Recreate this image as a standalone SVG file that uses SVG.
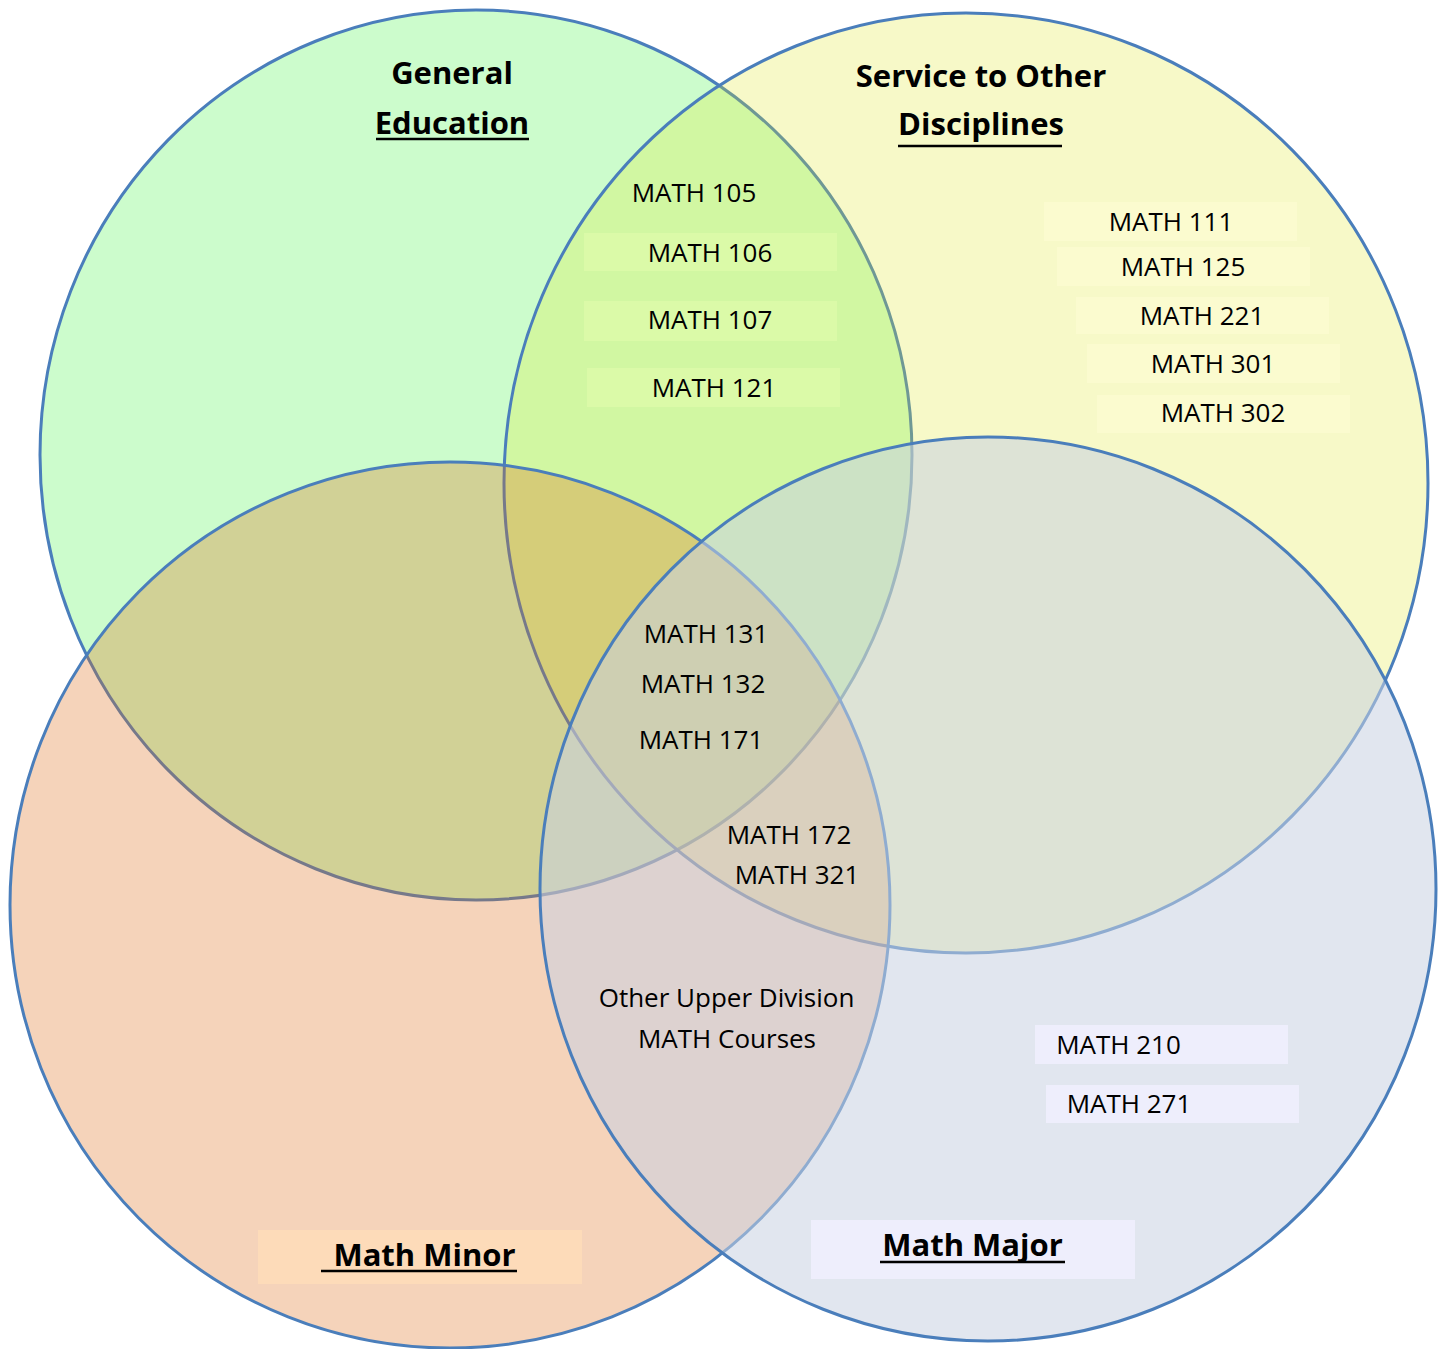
<svg xmlns="http://www.w3.org/2000/svg" width="1446" height="1349" viewBox="0 0 1446 1349">
<style>
.set{stroke:#4a7ebb;stroke-width:3}
.c{font-family:"Open Sans","Noto Sans","Liberation Sans",sans-serif;font-size:26px;fill:#000;text-anchor:middle}
.h{font-family:"Open Sans","Noto Sans","Liberation Sans",sans-serif;font-size:31px;font-weight:bold;fill:#000;text-anchor:middle}
.ul{stroke:#000;stroke-width:2.5}
.bg{fill:#dbfaa8}
.by{fill:#fbfbcf}
.bb{fill:#eeeefc}
</style>
<rect width="1446" height="1349" fill="#ffffff"/>
<g id="general-education"><ellipse class="set" cx="476" cy="455" rx="436" ry="445" fill="rgb(204,252,204)"/></g>
<g id="service-other-disciplines"><ellipse class="set" cx="966" cy="483" rx="462" ry="470" fill="rgb(224,232,36)" fill-opacity="0.25"/></g>
<g id="math-minor"><ellipse class="set" cx="450" cy="905" rx="440" ry="443" fill="rgb(222,108,28)" fill-opacity="0.3"/></g>
<g id="math-major"><ellipse class="set" cx="988" cy="889" rx="448" ry="452" fill="rgb(200,210,226)" fill-opacity="0.55"/></g>

<g id="title-general-education">
<text class="h" x="452" y="84">General</text>
<text class="h" x="452" y="134">Education</text>
<line class="ul" x1="376" y1="139" x2="529" y2="139"/>
</g>
<g id="title-service">
<text class="h" x="981" y="87">Service to Other</text>
<text class="h" x="981" y="135">Disciplines</text>
<line class="ul" x1="898" y1="146" x2="1062" y2="146"/>
</g>
<g id="title-math-minor">
<rect x="258" y="1230" width="324" height="54" fill="#fddbb9"/>
<text class="h" x="424.5" y="1266">Math Minor</text>
<line class="ul" x1="321" y1="1271" x2="517" y2="1271"/>
</g>
<g id="title-math-major">
<rect x="811" y="1220" width="324" height="59" fill="#eeeefc"/>
<text class="h" x="972.5" y="1256">Math Major</text>
<line class="ul" x1="880" y1="1262" x2="1065" y2="1262"/>
</g>

<g id="gen-ed-and-service">
<text class="c" x="694" y="202">MATH 105</text>
<rect class="bg" x="584" y="233" width="253" height="38"/>
<text class="c" x="710" y="262">MATH 106</text>
<rect class="bg" x="584" y="301" width="253" height="40"/>
<text class="c" x="710" y="329">MATH 107</text>
<rect class="bg" x="587" y="368" width="253" height="39"/>
<text class="c" x="714" y="397">MATH 121</text>
</g>
<g id="service-only">
<rect class="by" x="1044" y="202" width="253" height="39"/>
<text class="c" x="1171" y="231">MATH 111</text>
<rect class="by" x="1057" y="247" width="253" height="39"/>
<text class="c" x="1183" y="276">MATH 125</text>
<rect class="by" x="1076" y="297" width="253" height="37"/>
<text class="c" x="1202" y="325">MATH 221</text>
<rect class="by" x="1087" y="344" width="253" height="39"/>
<text class="c" x="1213" y="373">MATH 301</text>
<rect class="by" x="1097" y="395" width="253" height="38"/>
<text class="c" x="1223" y="422">MATH 302</text>
</g>
<g id="all-four">
<text class="c" x="706" y="643">MATH 131</text>
<text class="c" x="703" y="693">MATH 132</text>
<text class="c" x="701" y="749">MATH 171</text>
</g>
<g id="service-minor-major">
<text class="c" x="789" y="844">MATH 172</text>
<text class="c" x="797" y="884">MATH 321</text>
</g>
<g id="minor-major">
<text class="c" x="726.5" y="1007">Other Upper Division</text>
<text class="c" x="727" y="1048">MATH Courses</text>
</g>
<g id="major-only">
<rect class="bb" x="1035" y="1025" width="253" height="39"/>
<text class="c" x="1118.5" y="1054">MATH 210</text>
<rect class="bb" x="1046" y="1085" width="253" height="38"/>
<text class="c" x="1129" y="1113">MATH 271</text>
</g>
</svg>
